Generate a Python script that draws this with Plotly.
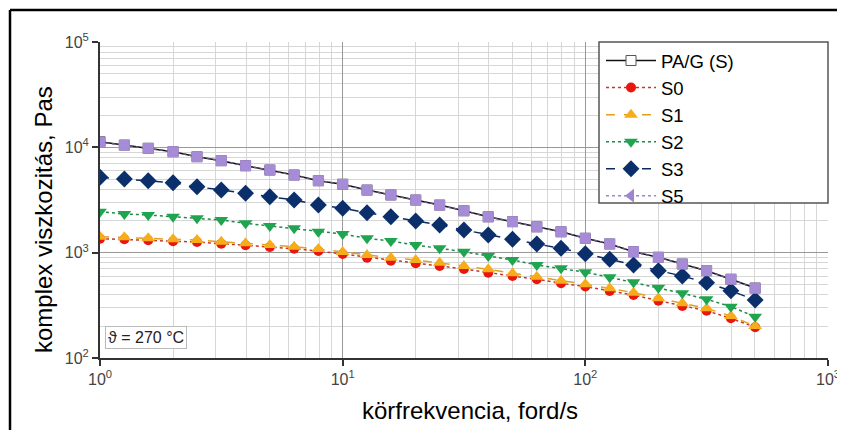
import plotly.graph_objects as go

# angular frequency, ford/s (10 points per decade, 1 ... 501)
freq = [1.0, 1.26, 1.58, 2.0, 2.51, 3.16, 3.98, 5.01, 6.31, 7.94,
        10.0, 12.6, 15.8, 20.0, 25.1, 31.6, 39.8, 50.1, 63.1, 79.4,
        100.0, 126.0, 158.0, 200.0, 251.0, 316.0, 398.0, 501.0]

pag = [11300, 10500, 9790, 9090, 8150, 7470, 6690, 6090, 5460, 4820,
       4460, 3930, 3530, 3160, 2830, 2500, 2190, 1970, 1760, 1580,
       1370, 1210, 1020, 904, 780, 674, 559, 462]
s5 = [11200, 10500, 9790, 9090, 8150, 7470, 6690, 6090, 5460, 4820,
      4460, 3930, 3530, 3160, 2830, 2500, 2190, 1970, 1760, 1580,
      1370, 1210, 1020, 904, 780, 674, 559, 459]
s3 = [5195, 5003, 4822, 4616, 4228, 3934, 3661, 3399, 3162, 2834,
      2638, 2395, 2194, 1998, 1830, 1641, 1472, 1339, 1208, 1100,
      975, 865, 764, 674, 600, 519, 435, 355]
s2 = [2448, 2328, 2278, 2194, 2120, 2042, 1900, 1791, 1704, 1581,
      1504, 1369, 1290, 1182, 1100, 1021, 929, 852, 764, 710,
      652, 584, 523, 465, 411, 361, 307, 247]
s1 = [1418, 1399, 1369, 1339, 1319, 1271, 1227, 1182, 1139, 1083,
      1015, 950, 896, 852, 803, 747, 695, 637, 591, 542,
      502, 459, 417, 369, 331, 296, 250, 201]
s0 = [1357, 1339, 1310, 1282, 1263, 1217, 1175, 1132, 1090, 1037,
      971, 896, 839, 793, 747, 700, 645, 600, 559, 512,
      477, 433, 396, 350, 312, 281, 238, 196]

x_ticks = [1, 10, 100, 1000]
x_ticktext = ["10<sup>0</sup>", "10<sup>1</sup>", "10<sup>2</sup>", "10<sup>3</sup>"]
y_ticks = [100, 1000, 10000, 100000]
y_ticktext = ["10<sup>2</sup>", "10<sup>3</sup>", "10<sup>4</sup>", "10<sup>5</sup>"]

x_title = "körfrekvencia, ford/s"
y_title = "komplex viszkozitás, Pas"
note = "ϑ = 270 °C"

FONT = "Arial, Liberation Sans, sans-serif"

fig = go.Figure()

fig.add_trace(go.Scatter(x=freq, y=pag, name="PA/G (S)", mode="lines+markers",
                         line=dict(color="#111111", width=1.5),
                         marker=dict(symbol="square", size=10, color="white",
                                     line=dict(color="#555555", width=1))))
fig.add_trace(go.Scatter(x=freq, y=s0, name="S0", mode="lines+markers",
                         line=dict(color="#c0392b", width=1.5, dash="dot"),
                         marker=dict(symbol="circle", size=10, color="#e8160c")))
fig.add_trace(go.Scatter(x=freq, y=s1, name="S1", mode="lines+markers",
                         line=dict(color="#e0a020", width=1.5, dash="dash"),
                         marker=dict(symbol="triangle-up", size=12, color="#f7ad1a")))
fig.add_trace(go.Scatter(x=freq, y=s2, name="S2", mode="lines+markers",
                         line=dict(color="#1e8a4a", width=1.5, dash="dot"),
                         marker=dict(symbol="triangle-down", size=12, color="#1fa550")))
fig.add_trace(go.Scatter(x=freq, y=s3, name="S3", mode="lines+markers",
                         line=dict(color="#0b2a5e", width=1.5, dash="dash"),
                         marker=dict(symbol="diamond", size=13, color="#0b2f6b")))
fig.add_trace(go.Scatter(x=freq, y=s5, name="S5", mode="lines+markers", showlegend=False,
                         line=dict(color="#6a5a8a", width=1.5, dash="dot"),
                         marker=dict(symbol="square", size=11, color="#a68bd6")))
fig.add_trace(go.Scatter(x=[None], y=[None], name="S5", mode="lines+markers",
                         line=dict(color="#9d85cf", width=1.5, dash="dot"),
                         marker=dict(symbol="triangle-left", size=12, color="#9d85cf")))

minor_x = [m * 10 ** e for e in range(0, 3) for m in range(2, 10)]
minor_y = [m * 10 ** e for e in range(2, 5) for m in range(2, 10)]

axis_common = dict(type="log", showline=True, linecolor="#333333", linewidth=2,
                   ticks="outside", ticklen=6, tickwidth=2, tickcolor="#333333",
                   gridcolor="#999999", gridwidth=1, zeroline=False, mirror=False,
                   ticklabeloverflow="allow",
                   tickfont=dict(family=FONT, size=16, color="#444444"))

fig.update_xaxes(**axis_common, range=[0, 3], tickvals=x_ticks, ticktext=x_ticktext,
                 minor=dict(tickvals=minor_x, showgrid=True, gridcolor="#d6d6d6", ticks=""))
fig.update_yaxes(**axis_common, range=[2, 5], tickvals=y_ticks, ticktext=y_ticktext,
                 minor=dict(tickvals=minor_y, showgrid=True, gridcolor="#d6d6d6", ticks=""))

# page has an 8 px body margin: figure coordinates = page coordinates - 8
OFF = 8
W, H = 845 - OFF, 430 - OFF
L, T = 100 - OFF, 42 - OFF
R, B = W - (828 - OFF), H - (358 - OFF)
PW, PH = W - L - R, H - T - B

def px(xp):
    return (xp - OFF - L) / PW

def py(yp):
    return 1 - (yp - OFF - T) / PH

fig.update_layout(
    width=W, height=H,
    margin=dict(l=L, r=R, t=T, b=B, autoexpand=False),
    paper_bgcolor="white", plot_bgcolor="white",
    font=dict(family=FONT, size=17, color="black"),
    legend=dict(x=px(601), y=py(42), xanchor="left", yanchor="top",
                bgcolor="rgba(0,0,0,0)", borderwidth=0,
                font=dict(family=FONT, size=18.5, color="black"),
                itemwidth=50, tracegroupgap=0),
    shapes=[
        dict(type="rect", xref="paper", yref="paper",
             x0=px(599), x1=px(828), y0=py(203), y1=py(42),
             fillcolor="white", line=dict(color="#555555", width=1.5), layer="above"),
        dict(type="line", xref="paper", yref="paper",
             x0=px(10), x1=px(860), y0=py(10), y1=py(10),
             line=dict(color="black", width=2.5)),
        dict(type="line", xref="paper", yref="paper",
             x0=px(10), x1=px(10), y0=py(10), y1=py(440),
             line=dict(color="black", width=2.5)),
    ],
    annotations=[
        dict(text=note, xref="paper", yref="paper", x=px(105), y=py(337),
             xanchor="left", yanchor="middle", showarrow=False,
             font=dict(family=FONT, size=16, color="#222222"),
             bordercolor="#bbbbbb", borderwidth=1, borderpad=2, bgcolor="white"),
        dict(text=x_title, xref="paper", yref="paper", x=px(470), y=py(410),
             xanchor="center", yanchor="middle", showarrow=False,
             font=dict(family=FONT, size=24, color="black")),
        dict(text=y_title, xref="paper", yref="paper", x=px(43), y=py(220),
             xanchor="center", yanchor="middle", showarrow=False, textangle=-90,
             font=dict(family=FONT, size=24, color="black")),
    ],
)

fig.write_html("out.html")
